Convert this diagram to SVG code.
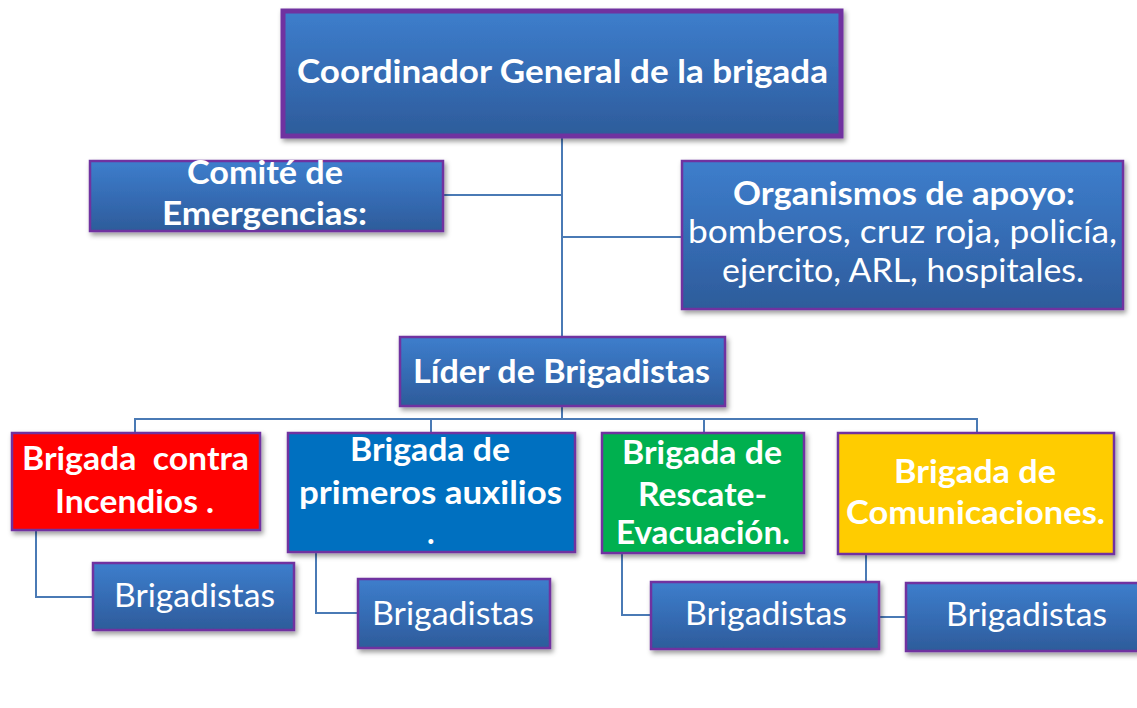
<svg xmlns="http://www.w3.org/2000/svg" width="1137" height="708" viewBox="0 0 1137 708">
<defs>
<linearGradient id="blueGrad" x1="0" y1="0" x2="0" y2="1">
<stop offset="0" stop-color="#3D7ECC"/>
<stop offset="0.6" stop-color="#3469B0"/>
<stop offset="1" stop-color="#2D5C9A"/>
</linearGradient>
<filter id="shadow" x="-10%" y="-10%" width="125%" height="135%">
<feDropShadow dx="2" dy="3" stdDeviation="2.5" flood-color="#000" flood-opacity="0.4"/>
</filter>
<style>
.box{stroke:#7030A0;stroke-width:2.5;filter:url(#shadow)}
.blue{fill:url(#blueGrad)}
.t{font-family:Lato,"Liberation Sans",sans-serif;font-size:32px;fill:#fff;font-weight:700;white-space:pre}
.r{font-weight:400}
.conn{fill:none;stroke:#4A7AB5;stroke-width:2}
</style>
</defs>
<rect width="1137" height="708" fill="#fff"/>
<g id="connectors">
<path class="conn" d="M562 136V337"/>
<path class="conn" d="M443 195H562"/>
<path class="conn" d="M562 237H683"/>
<path class="conn" d="M562 406V419"/>
<path class="conn" d="M135 433V419H977V433"/>
<path class="conn" d="M431 419V433"/>
<path class="conn" d="M704 419V433"/>
<path class="conn" d="M36 530V597H93"/>
<path class="conn" d="M316 552V613H358"/>
<path class="conn" d="M622 553V615H651"/>
<path class="conn" d="M866 554V617H906"/>
</g>
<g id="coordinador">
<rect class="box blue" x="283" y="11" width="558" height="125" style="stroke-width:5"/>
<text class="t" x="297" y="83" textLength="531" lengthAdjust="spacingAndGlyphs">Coordinador General de la brigada</text>
</g>
<g id="comite">
<rect class="box blue" x="90" y="161" width="353" height="70"/>
<text class="t" x="187" y="184" textLength="156" lengthAdjust="spacingAndGlyphs">Comité de</text>
<text class="t" x="162" y="225" textLength="205" lengthAdjust="spacingAndGlyphs">Emergencias:</text>
</g>
<g id="organismos">
<rect class="box blue" x="682" y="161" width="441" height="148"/>
<text class="t" x="733" y="205" textLength="342" lengthAdjust="spacingAndGlyphs">Organismos de apoyo:</text>
<text class="t r" x="688" y="243" textLength="429" lengthAdjust="spacingAndGlyphs">bomberos, cruz roja, policía,</text>
<text class="t r" x="722" y="282" textLength="362" lengthAdjust="spacingAndGlyphs">ejercito, ARL, hospitales.</text>
</g>
<g id="lider">
<rect class="box blue" x="400" y="337" width="325" height="69"/>
<text class="t" x="413" y="383" textLength="297" lengthAdjust="spacingAndGlyphs">Líder de Brigadistas</text>
</g>
<g id="incendios">
<rect class="box" x="12" y="433" width="248" height="97" fill="#FF0000"/>
<text class="t" x="22" y="470" textLength="227" lengthAdjust="spacingAndGlyphs" xml:space="preserve">Brigada  contra</text>
<text class="t" x="55" y="513" textLength="159" lengthAdjust="spacingAndGlyphs">Incendios .</text>
</g>
<g id="primeros">
<rect class="box" x="288" y="433" width="287" height="119" fill="#0070C0"/>
<text class="t" x="350" y="461" textLength="160" lengthAdjust="spacingAndGlyphs">Brigada de</text>
<text class="t" x="299" y="504" textLength="263" lengthAdjust="spacingAndGlyphs">primeros auxilios</text>
<text class="t" x="427" y="544">.</text>
</g>
<g id="rescate">
<rect class="box" x="602" y="433" width="202" height="120" fill="#00B050"/>
<text class="t" x="622" y="464" textLength="160" lengthAdjust="spacingAndGlyphs">Brigada de</text>
<text class="t" x="638" y="506" textLength="129" lengthAdjust="spacingAndGlyphs">Rescate-</text>
<text class="t" x="616" y="544" textLength="174" lengthAdjust="spacingAndGlyphs">Evacuación.</text>
</g>
<g id="comunicaciones">
<rect class="box" x="838" y="433" width="276" height="121" fill="#FFCC00"/>
<text class="t" x="894" y="483" textLength="162" lengthAdjust="spacingAndGlyphs">Brigada de</text>
<text class="t" x="846" y="524" textLength="259" lengthAdjust="spacingAndGlyphs">Comunicaciones.</text>
</g>
<g id="brigadistas1">
<rect class="box blue" x="93" y="563" width="201" height="67"/>
<text class="t r" x="114" y="607" textLength="161" lengthAdjust="spacingAndGlyphs">Brigadistas</text>
</g>
<g id="brigadistas2">
<rect class="box blue" x="358" y="579" width="192" height="69"/>
<text class="t r" x="372" y="625" textLength="162" lengthAdjust="spacingAndGlyphs">Brigadistas</text>
</g>
<g id="brigadistas3">
<rect class="box blue" x="651" y="582" width="228" height="67"/>
<text class="t r" x="685" y="625" textLength="162" lengthAdjust="spacingAndGlyphs">Brigadistas</text>
</g>
<g id="brigadistas4">
<rect class="box blue" x="906" y="583" width="240" height="68"/>
<text class="t r" x="946" y="626" textLength="161" lengthAdjust="spacingAndGlyphs">Brigadistas</text>
</g>
</svg>
